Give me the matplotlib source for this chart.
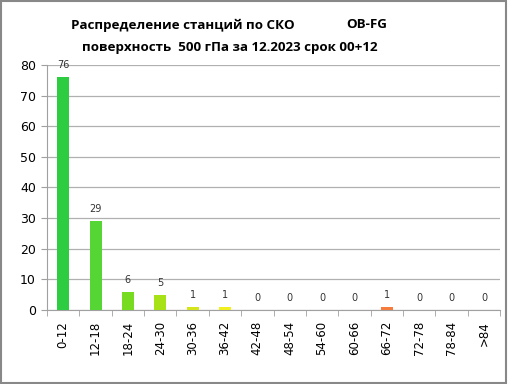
import matplotlib.pyplot as plt
import numpy as np

# Категории и значения
categories = ['0-12', '12-18', '18-24', '24-30', '30-36', '36-42', '42-48',
              '48-54', '54-60', '60-66', '66-72', '72-78', '78-84', '>84']
counts = [76, 29, 6, 5, 1, 1, 0, 0, 0, 0, 1, 0, 0, 0]
colors = ['#2ecc40', '#55d634', '#77dc20', '#a6e216', '#d4e61a', '#f0f020',
          '#f5d800', '#f5c000', '#f5a800', '#f59030', '#f57c3c', '#f06a3a',
          '#e85a35', '#e04a30']

fig = plt.figure(figsize=(5.08, 3.84), dpi=100)
ax = fig.add_axes([0.0925, 0.193, 0.892, 0.638])

x = np.arange(len(categories))
bars = ax.bar(x, counts, width=0.37, color=colors, zorder=3)

for xi, v in zip(x, counts):
    ax.annotate(str(v), (xi, v), xytext=(0, 8.5), textcoords='offset points',
                ha='center', va='center', fontsize=7, color='#333333')

ax.set_xlim(-0.5, len(categories) - 0.5)
ax.set_ylim(0, 80)
ax.set_yticks(range(0, 81, 10))
ax.yaxis.grid(True, color='#b0b0b0', linewidth=0.9, zorder=0)
ax.set_xticks(x)
ax.set_xticklabels(categories, rotation=90, fontsize=8.5)
ax.set_xticks(np.arange(-0.5, len(categories), 1), minor=True)
ax.tick_params(axis='x', which='major', length=0, pad=8)
ax.tick_params(axis='x', which='minor', length=4, color='#a0a0a0', direction='out')
ax.tick_params(axis='y', labelsize=9, length=4, color='#a0a0a0', pad=4)
for s in ['top', 'right']:
    ax.spines[s].set_visible(False)
ax.spines['left'].set_color('#a0a0a0')
ax.spines['bottom'].set_color('#a0a0a0')

fs = 9.6
fig.text(71 / 508, 1 - 25 / 384, 'Распределение станций по СКО', ha='left', va='center',
         fontsize=fs, fontweight='bold', family='Open Sans')
fig.text(387 / 508, 1 - 25 / 384, 'OB-FG', ha='right', va='center',
         fontsize=fs, fontweight='bold', family='Open Sans')
fig.text(230 / 508, 1 - 47 / 384, 'поверхность  500 гПа за 12.2023 срок 00+12', ha='center',
         va='center', fontsize=fs, fontweight='bold', family='Open Sans')

# Рамка вокруг рисунка
fig.patches.append(plt.Rectangle((0.002, 0.003), 0.995, 0.994, transform=fig.transFigure,
                                 fill=False, edgecolor='#888888', linewidth=1.5))

fig.savefig('out.png', dpi=100)
